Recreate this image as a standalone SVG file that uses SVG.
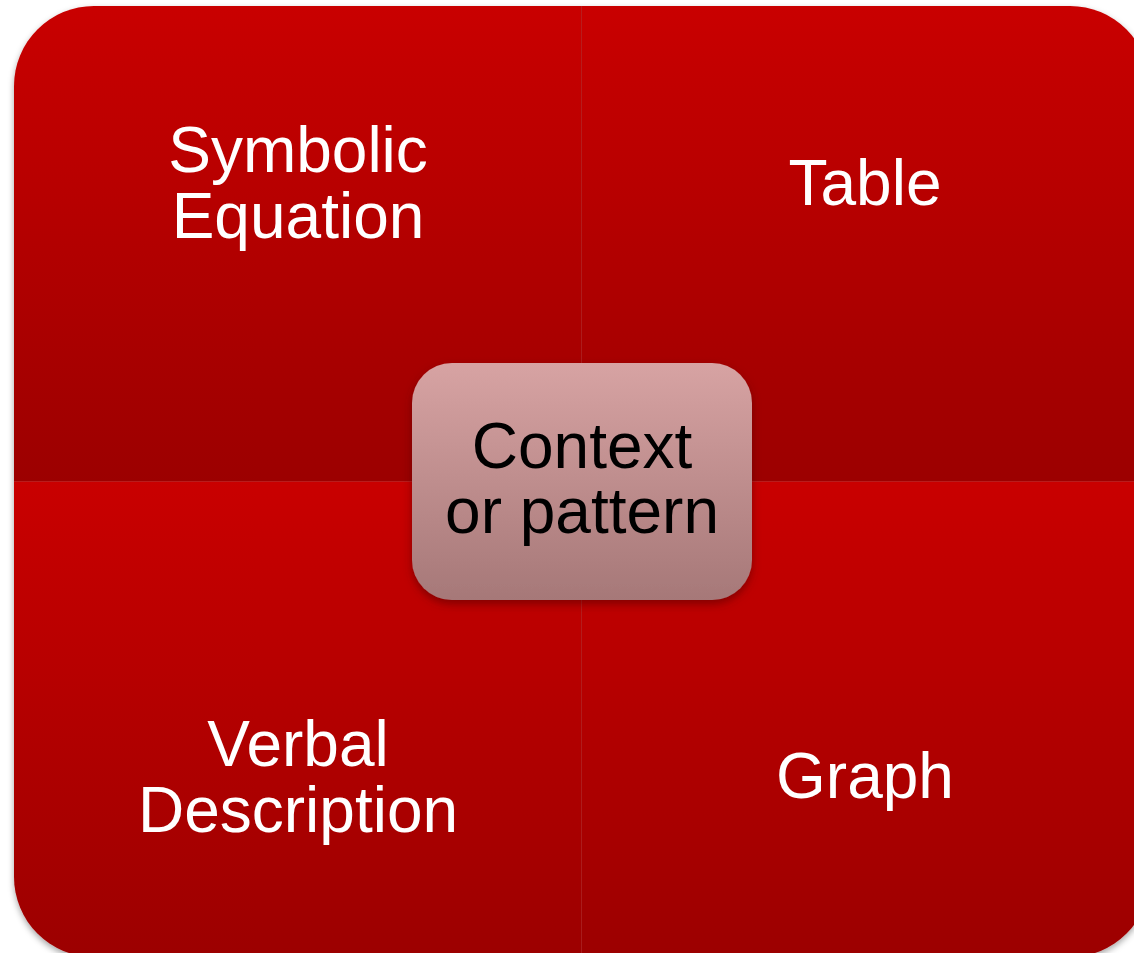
<svg xmlns="http://www.w3.org/2000/svg" width="1134" height="953" viewBox="0 0 1134 953">
<defs>
<linearGradient id="gq" x1="0" y1="0" x2="0" y2="1">
<stop offset="0" stop-color="#C90000"/>
<stop offset="1" stop-color="#9C0000"/>
</linearGradient>
<linearGradient id="gc" x1="0" y1="0" x2="0" y2="1">
<stop offset="0" stop-color="#D7A3A3"/>
<stop offset="1" stop-color="#A67878"/>
</linearGradient>
<filter id="sh" x="-10%" y="-10%" width="120%" height="120%">
<feDropShadow dx="0" dy="3" stdDeviation="3" flood-color="#000" flood-opacity="0.35"/>
</filter>
<filter id="sh2" x="-10%" y="-10%" width="120%" height="125%">
<feDropShadow dx="0" dy="4" stdDeviation="4" flood-color="#400" flood-opacity="0.5"/>
</filter>
<clipPath id="outer">
<rect x="14" y="6" width="1136" height="951" rx="80" ry="80"/>
</clipPath>
</defs>
<style>
.q{fill:url(#gq);}
.lbl{font-family:"Liberation Sans",Arial,sans-serif;font-size:64px;fill:#fff;text-anchor:middle;}
.clbl{font-family:"Liberation Sans",Arial,sans-serif;font-size:64px;fill:#000;text-anchor:middle;}
.div{stroke:#B03030;stroke-width:1;opacity:0.6;}
</style>
<g filter="url(#sh)">
<g clip-path="url(#outer)">
<g id="q-symbolic"><rect class="q" x="14" y="6" width="567" height="475"/></g>
<g id="q-table"><rect class="q" x="581" y="6" width="569" height="475"/></g>
<g id="q-verbal"><rect class="q" x="14" y="481" width="567" height="476"/></g>
<g id="q-graph"><rect class="q" x="581" y="481" width="569" height="476"/></g>
</g>
</g>
<g id="connectors">
<line class="div" x1="581.5" y1="6" x2="581.5" y2="957"/>
<line class="div" x1="14" y1="481.5" x2="1150" y2="481.5"/>
</g>
<g id="labels">
<text class="lbl" x="298" y="172">Symbolic</text>
<text class="lbl" x="298" y="238">Equation</text>
<text class="lbl" x="865" y="205">Table</text>
<text class="lbl" x="298" y="766">Verbal</text>
<text class="lbl" x="298" y="832">Description</text>
<text class="lbl" x="865" y="798">Graph</text>
</g>
<g id="center">
<rect x="412" y="363" width="340" height="237" rx="40" ry="40" fill="url(#gc)" filter="url(#sh2)"/>
<text class="clbl" x="582" y="468">Context</text>
<text class="clbl" x="582" y="533">or pattern</text>
</g>
</svg>
